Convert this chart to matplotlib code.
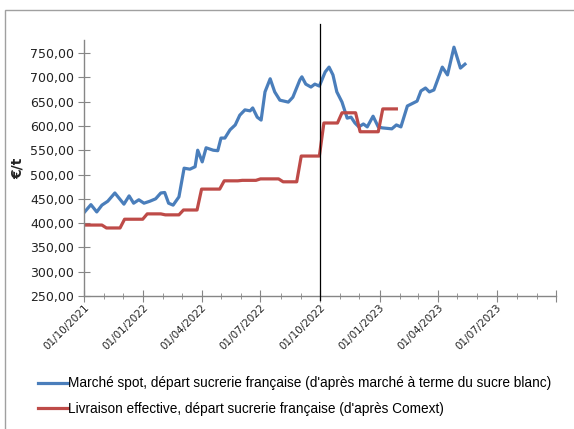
import numpy as np
import pandas as pd
import matplotlib
matplotlib.use('Agg')
import matplotlib.pyplot as plt
import matplotlib.dates as mdates
from matplotlib.patches import Rectangle
from matplotlib.ticker import FuncFormatter

# --- data ---
spot_dates = ['2021-10-01', '2021-10-12', '2021-10-21', '2021-10-29', '2021-11-07', '2021-11-18',
              '2021-12-02', '2021-12-10', '2021-12-17', '2021-12-25', '2022-01-02', '2022-01-11',
              '2022-01-20', '2022-01-28', '2022-02-03', '2022-02-09', '2022-02-16', '2022-02-25',
              '2022-03-05', '2022-03-14', '2022-03-22', '2022-03-26', '2022-04-02', '2022-04-08',
              '2022-04-19', '2022-04-26', '2022-05-01', '2022-05-07', '2022-05-15', '2022-05-23',
              '2022-05-30', '2022-06-07', '2022-06-15', '2022-06-19', '2022-06-26', '2022-07-02',
              '2022-07-08', '2022-07-16', '2022-07-23', '2022-07-31', '2022-08-13', '2022-08-20',
              '2022-08-31', '2022-09-03', '2022-09-09', '2022-09-17', '2022-09-23', '2022-09-30',
              '2022-10-09', '2022-10-15', '2022-10-21', '2022-10-27', '2022-11-04', '2022-11-12',
              '2022-11-18', '2022-11-24', '2022-11-30', '2022-12-07', '2022-12-13', '2022-12-22',
              '2022-12-30', '2023-01-05', '2023-01-20', '2023-01-27', '2023-02-03', '2023-02-13',
              '2023-02-22', '2023-02-28', '2023-03-06', '2023-03-13', '2023-03-19', '2023-03-26',
              '2023-04-08', '2023-04-16', '2023-04-26', '2023-05-06', '2023-05-13']
spot_values = [421, 438, 423, 437, 445, 462,
               439, 456, 441, 448, 441, 445,
               450, 462, 463, 441, 437, 454,
               513, 511, 516, 550, 526, 555,
               550, 549, 575, 575, 592, 602,
               622, 633, 631, 637, 618, 612,
               670, 697, 670, 653, 649, 659,
               695, 701, 686, 680, 686, 682,
               711, 721, 705, 670, 649, 616,
               618, 606, 598, 604, 598, 620,
               598, 596, 594, 602, 598, 641,
               647, 651, 672, 678, 670, 674,
               721, 705, 762, 719, 727]

# monthly delivered price (Comext), shown on weekly points
comext_months = ['2021-10', '2021-11', '2021-12', '2022-01', '2022-02', '2022-03', '2022-04',
                 '2022-05', '2022-06', '2022-07', '2022-08', '2022-09', '2022-10', '2022-11',
                 '2022-12', '2023-01']
comext_values = [396, 390, 408, 419, 417, 427, 470,
                 487, 488, 491, 485, 538, 606, 627,
                 588, 635]

label_spot = "Marché spot, départ sucrerie française (d'après marché à terme du sucre blanc)"
label_comext = "Livraison effective, départ sucrerie française (d'après Comext)"

blue = '#4A7EBB'
red = '#BE4B48'
grey = '#868686'

# weekly series for the monthly values
weeks = pd.date_range('2021-10-01', '2023-01-27', freq='7D')
month_map = dict(zip(comext_months, comext_values))
comext_weekly = [month_map[d.strftime('%Y-%m')] for d in weeks]

fig = plt.figure(figsize=(5.74, 4.29), dpi=100)
ax = fig.add_axes([0.146, 0.31, 0.823, 0.597])

# outer chart border (cut off at right and bottom)
fig.patches.append(Rectangle((5 / 574, -0.05), 1.1, 1 - 10 / 429 + 0.05, transform=fig.transFigure,
                             fill=False, edgecolor='#A0A0A0', lw=1.0))

ax.plot(pd.to_datetime(spot_dates), spot_values, color=blue, lw=2.3, label=label_spot)
ax.plot(weeks, comext_weekly, color=red, lw=2.3, label=label_comext)

cut = pd.Timestamp('2022-10-01')
ax.plot([cut, cut], [242, 810], color='black', lw=0.9, clip_on=False, zorder=5)

x_end = pd.Timestamp('2023-10-01')
ax.set_ylim(250, 777)
ax.set_xlim(pd.Timestamp('2021-10-01'), x_end)
ax.set_yticks(np.arange(250, 751, 50))
ax.yaxis.set_major_formatter(FuncFormatter(lambda v, p: f'{v:.2f}'.replace('.', ',')))
ax.xaxis.set_major_locator(mdates.MonthLocator(bymonth=[1, 4, 7, 10]))
ax.xaxis.set_minor_locator(mdates.MonthLocator())


def date_label(v, p):
    d = mdates.num2date(v)
    if d.year == 2023 and d.month == 10:
        return ''
    return d.strftime('%d/%m/%Y')


ax.xaxis.set_major_formatter(FuncFormatter(date_label))

for s in ['top', 'right']:
    ax.spines[s].set_visible(False)
for s in ['left', 'bottom']:
    ax.spines[s].set_color(grey)
    ax.spines[s].set_linewidth(1.0)

ax.tick_params(axis='y', which='major', direction='inout', length=8, color=grey, labelsize=9,
               labelcolor='#222222', pad=3)
ax.tick_params(axis='x', which='major', direction='inout', length=8, color=grey, labelsize=7.5,
               labelcolor='#222222', pad=1)
ax.tick_params(axis='x', which='minor', direction='inout', length=5, color=grey)
for lbl in ax.get_xticklabels():
    lbl.set_rotation(45)
    lbl.set_ha('right')
    lbl.set_rotation_mode('anchor')

fig.text(18 / 574, 1 - 168 / 429, '€/t', rotation=90, fontsize=10, fontweight='bold',
         ha='center', va='center', color='#222222')

fig.legend(loc='upper left', bbox_to_anchor=(33 / 574, 1 - 371 / 429), frameon=False,
           handlelength=2.2, handletextpad=0.0, labelspacing=0.85, borderaxespad=0,
           prop={'family': 'Liberation Sans', 'size': 9.8})

fig.savefig('out.png', dpi=100)
